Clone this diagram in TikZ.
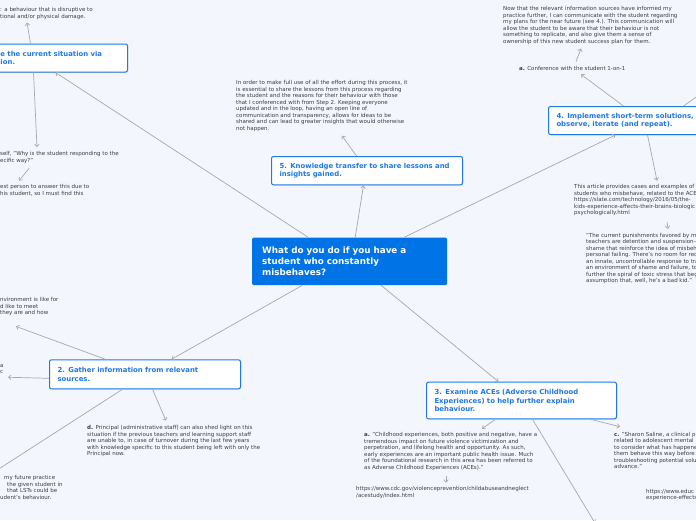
\documentclass[tikz,border=0pt]{standalone}
\usepackage{fontspec}
\setmainfont{DejaVu Sans}
\usetikzlibrary{arrows.meta}
\usetikzlibrary{shadows}

\definecolor{paperblue}{HTML}{F3F6FD}
\definecolor{rootblue}{HTML}{0073E6}
\definecolor{topicblue}{HTML}{1F78E6}
\definecolor{notegray}{HTML}{3C3C48}
\definecolor{linkgray}{HTML}{A6A8B0}

\newcommand{\notefont}{\fontsize{5.5}{6.5}\selectfont}
\newcommand{\topicfont}{\bfseries\fontsize{6.9}{8.7}\selectfont}
\newcommand{\rootfont}{\bfseries\fontsize{8.8}{11}\selectfont}

\begin{document}
\begin{tikzpicture}[x=1pt,y=-1pt,
  root/.style={fill=rootblue,rounded corners=1.5pt,anchor=north west,align=left,
    inner xsep=10pt,inner ysep=0pt,text=white,font=\rootfont},
  topic/.style={draw=topicblue,line width=1pt,rounded corners=2pt,fill=white,
    anchor=north west,align=left,inner xsep=8pt,inner ysep=0pt,text=topicblue,font=\topicfont,
    drop shadow={shadow xshift=0.6pt,shadow yshift=-0.8pt,opacity=0.25}},
  note/.style={anchor=north west,align=left,inner sep=0pt,text=notegray,font=\notefont},
  link/.style={draw=linkgray,line width=0.7pt,-{Straight Barb[length=2.5pt,width=4.5pt]}}]
\useasboundingbox (0,0) rectangle (696,520);
\fill [paperblue] (0,0) rectangle (696,520);
\clip (0,0) rectangle (696,520);

% central question
\node [root,text width=175pt,minimum height=47.7pt] (main) at (252,237.3)
  {What do you do if you have a\\student who constantly\\misbehaves?};

% steps
\node [topic,text width=119pt,minimum height=28pt] (t1) at (-8,43.5)
  {e the current situation via\\ion.};
\node [topic,text width=175pt,minimum height=28.3pt] (t5) at (271,156)
  {5. Knowledge transfer to share lessons and\\insights gained.};
\node [topic,text width=174pt,minimum height=28pt] (t4) at (548,106)
  {4. Implement short-term solutions,\\observe, iterate (and repeat).};
\node [topic,text width=175pt,minimum height=29pt] (t2) at (49,359.3)
  {2. Gather information from relevant\\sources.};
\node [topic,text width=174pt,minimum height=36.6pt] (t3) at (426,381.7)
  {3. Examine ACEs (Adverse Childhood\\Experiences) to help further explain\\behaviour.};

% notes of step 1
\node [note] (n1a) at (0,7.2) {: a behaviour that is disruptive to\\tional and/or physical damage.};
\node [note] (n1b) at (0,151.2) {self, "Why is the student responding to the\\ecific way?"};
\node [note] (n1c) at (0,184.2) {est person to answer this due to\\his student, so I must find this};

% notes of step 5
\node [note] (n5a) at (236,80.5) {In order to make full use of all the effort during this process, it\\
is essential to share the lessons from this process regarding\\
the student and the reasons for their behaviour with those\\
that I conferenced with from Step 2. Keeping everyone\\
updated and in the loop, having an open line of\\
communication and transparency, allows for ideas to be\\
shared and can lead to greater insights that would otherwise\\
not happen.};

% notes of step 4
\node [note] (n4a) at (519,66.2) {\textbf{a.} Conference with the student 1-on-1};
\node [note] (n4aa) at (503,6.2) {Now that the relevant information sources have informed my\\
practice further, I can communicate with the student regarding\\
my plans for the near future (see 4.). This communication will\\
allow the student to be aware that their behaviour is not\\
something to replicate, and also give them a sense of\\
ownership of this new student success plan for them.};
\node [note] (n4c) at (574,184.2) {This article provides cases and examples of\\
students who misbehave, related to the ACE\\
https://slate.com/technology/2016/05/the-\\
kids-experience-affects-their-brains-biologic\\
psychologically.html};
\node [note] (n4cc) at (586,232.9) {"The current punishments favored by m\\
teachers are detention and suspension---\\
shame that reinforce the idea of misbeh\\
personal failing. There's no room for rec\\
an innate, uncontrollable response to tra\\
an environment of shame and failure, to\\
further the spiral of toxic stress that beg\\
assumption that, well, he's a bad kid."};

% notes of step 2
\node [note] (n2a) at (0,297.2) {nvironment is like for\\d like to meet\\they are and how};
\node [note] (n2b) at (0,364.2) {a\\c};
\node [note] (n2c) at (0,475.2) {\hspace*{4pt}my future practice\\\hspace*{7pt}the given student in\\
\hspace*{7pt}that LSTs could be\\udent's behaviour.};
\node [note] (n2d) at (87,425.2) {\textbf{d.} Principal (administrative staff) can also shed light on this\\
situation if the previous teachers and learning support staff\\
are unable to, in case of turnover during the last few years\\
with knowledge specific to this student being left with only the\\
Principal now.};

% notes of step 3
\node [note] (n3a) at (364,432.2) {\textbf{a.} "Childhood experiences, both positive and negative, have a\\
tremendous impact on future violence victimization and\\
perpetration, and lifelong health and opportunity. As such,\\
early experiences are an important public health issue. Much\\
of the foundational research in this area has been referred to\\
as Adverse Childhood Experiences (ACEs)."};
\node [note] (n3aa) at (356,486.2) {https://www.cdc.gov/violenceprevention/childabuseandneglect\\/acestudy/index.html};
\node [note] (n3c) at (614,431.7) {\textbf{c.} "Sharon Saline, a clinical p\\
related to adolescent mental\\
to consider what has happene\\
them behave this way before\\
troubleshooting potential solu\\
advance."};
\node [note] (n3cc) at (646,488.9) {https://www.educ\\experience-effects};

\coordinate (t4out) at (710,87.3);
\coordinate (t2out) at (-10,474.6);
\coordinate (t3out) at (595,523);

% root to steps
\draw [link] ([xshift=-41.5pt]main.north) -- ([xshift=-4.5pt]t1.south);
\draw [link] ([xshift=5.5pt]main.north) -- ([xshift=-3.5pt]t5.south);
\draw [link] ([xshift=54.5pt]main.north) -- ([xshift=-28pt]t4.south);
\draw [link] ([xshift=-47.5pt]main.south) -- ([xshift=26.5pt]t2.north);
\draw [link] ([xshift=31.5pt]main.south) -- ([xshift=-23pt]t3.north);

% step 1
\draw [link] ([xshift=-29.5pt]t1.north) -- ([xshift=27pt,yshift=-3pt]n1a.south west);
\draw [link] ([xshift=-26.5pt]t1.south) -- ([xshift=37pt,yshift=4pt]n1b.north west);
\draw [link] ([xshift=29pt,yshift=-5pt]n1b.south west) -- ([xshift=19pt,yshift=3.5pt]n1c.north west);

% step 5
\draw [link] ([xshift=-10.5pt]t5.north) -- ([xshift=106pt,yshift=-4pt]n5a.south west);

% step 4
\draw [link] ([xshift=-20pt]t4.north) -- ([xshift=62pt,yshift=-3.5pt]n4a.south west);
\draw [link] ([xshift=57pt,yshift=4.5pt]n4a.north west) -- ([xshift=78pt,yshift=-4pt]n4aa.south west);
\draw [link] ([xshift=40pt]t4.north) -- (t4out);
\draw [link] ([xshift=4pt]t4.south) -- ([xshift=83pt,yshift=3.5pt]n4c.north west);
\draw [link] ([xshift=93pt,yshift=-6pt]n4c.south west) -- ([xshift=82pt,yshift=4pt]n4cc.north west);

% step 2
\draw [link] ([xshift=-39.5pt]t2.north) -- ([xshift=16pt,yshift=-10.5pt]n2a.south west);
\draw [link] ([yshift=-4pt]t2.west) -- ([xshift=8pt,yshift=-3pt]n2b.south west);
\draw [link] ([xshift=-22.5pt]t2.south) -- (t2out);
\draw [link] ([xshift=7.5pt]t2.south) -- ([xshift=79pt,yshift=4.5pt]n2d.north west);

% step 3
\draw [link] ([xshift=-26pt]t3.south) -- ([xshift=118pt,yshift=3.5pt]n3a.north west);
\draw [link] ([xshift=82pt,yshift=-6pt]n3a.south west) -- ([xshift=90pt,yshift=3.5pt]n3aa.north west);
\draw [link] ([xshift=69pt]t3.south) -- ([xshift=6pt,yshift=5pt]n3c.north west);
\draw [link] ([xshift=11pt]t3.south) -- (t3out);
\end{tikzpicture}
\end{document}
